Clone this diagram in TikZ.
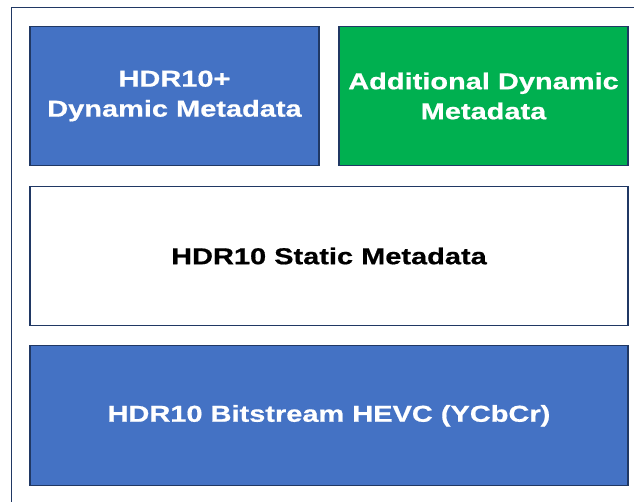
\documentclass[tikz,border=0pt]{standalone}
\usepackage{fontspec}
\newfontfamily\boxfont{Liberation Sans}[FakeStretch=1.26,FakeBold=0.7]
\usepackage{tikz}
\definecolor{hdrblue}{RGB}{68,114,196}
\definecolor{hdrgreen}{RGB}{0,176,80}
\definecolor{hdrline}{RGB}{32,56,100}

\begin{document}
\begin{tikzpicture}[x=1pt,y=-1pt,
    layer/.style={draw=hdrline,line width=1.2pt,inner sep=0pt,align=center,
      font=\boxfont\bfseries\fontsize{23}{30}\selectfont},
    half/.style={layer,minimum width=289pt,minimum height=139pt},
    full/.style={layer,minimum width=598pt,minimum height=139pt}]
      \useasboundingbox (0,0) rectangle (634,502);
      \draw[hdrline,line width=1pt] (11,7.5) rectangle (650,520);

      \node (dynplus) at (174.5,96) [half,fill=hdrblue,text=white] {HDR10+\\Dynamic Metadata};
      \node (adddyn) at (483.5,96) [half,fill=hdrgreen,text=white] {Additional Dynamic\\Metadata};

      \node (static) at (329,256) [full,fill=white,text=black] {HDR10 Static Metadata};

      \node (bitstream) at (329,415.8) [full,minimum height=140pt,fill=hdrblue,text=white] {HDR10 Bitstream HEVC (YCbCr)};
    \end{tikzpicture}
\end{document}
